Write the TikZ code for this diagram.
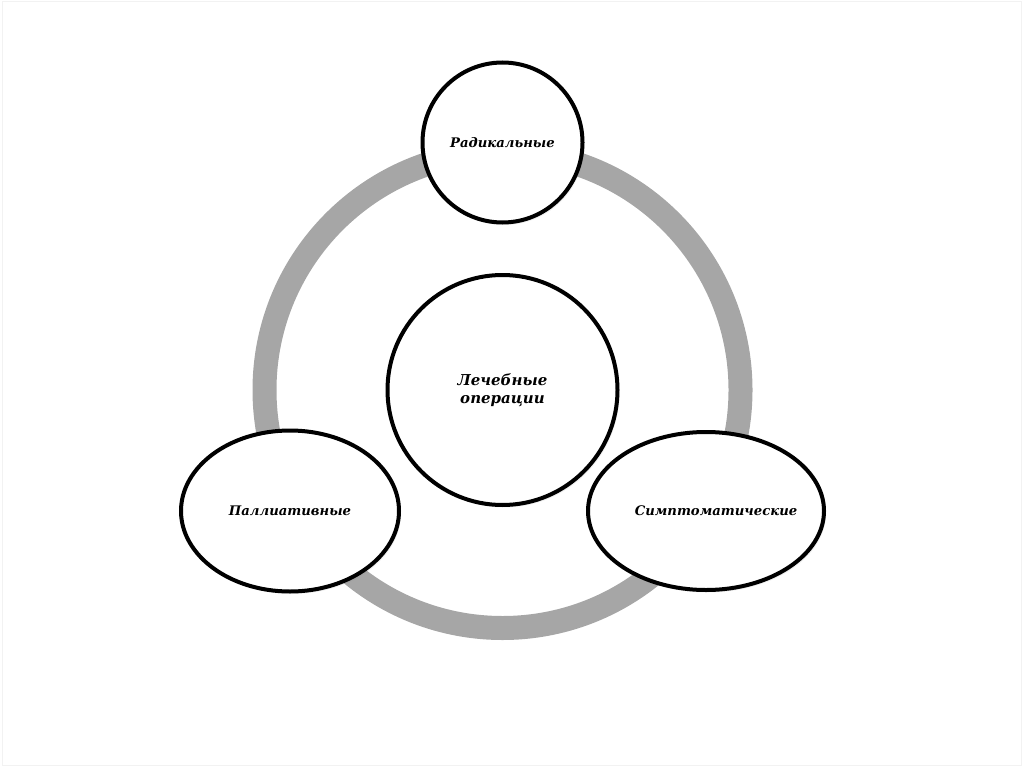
\documentclass[tikz,border=0pt]{standalone}
\usepackage{fontspec}
\setmainfont{DejaVu Serif}
\usetikzlibrary{shapes.geometric,shadows}
\definecolor{ringgray}{HTML}{A6A6A6}
\begin{document}
\begin{tikzpicture}[x=1pt,y=-1pt,
  labelfont/.style={font=\fontsize{13.2}{15}\selectfont\bfseries\itshape},
  bubble/.style={draw=black, line width=4pt, fill=white, align=center, inner sep=0pt,
    drop shadow={opacity=0.12, shadow xshift=2pt, shadow yshift=-2.5pt}, labelfont},
  roundbubble/.style={bubble, circle},
  ovalbubble/.style={bubble, ellipse},
  ringstyle/.style={draw=ringgray, line width=24pt},
  framestyle/.style={draw=black!5, line width=1pt}
]
\useasboundingbox (0,0) rectangle (1024,767);
\draw[framestyle] (2.5,1.5) rectangle (1021.5,765.5);
\coordinate (c) at (502.5,390);
\draw[ringstyle] (c) circle[radius=238pt];
\node[roundbubble, minimum size=160pt] (rad) at (502.5,142.5) {Радикальные};
\node[roundbubble, minimum size=230pt, font=\fontsize{15}{18.5}\selectfont\bfseries\itshape] (center) at (c) {Лечебные\\операции};
\node[ovalbubble, minimum width=218pt, minimum height=161pt] (pal) at (290,511) {Паллиативные};
\node[ovalbubble, minimum width=236pt, minimum height=158pt] (sym) at (706,511) {};
\node[labelfont, inner sep=0pt] (symtext) at (716,511) {Симптоматические};
\end{tikzpicture}
\end{document}
